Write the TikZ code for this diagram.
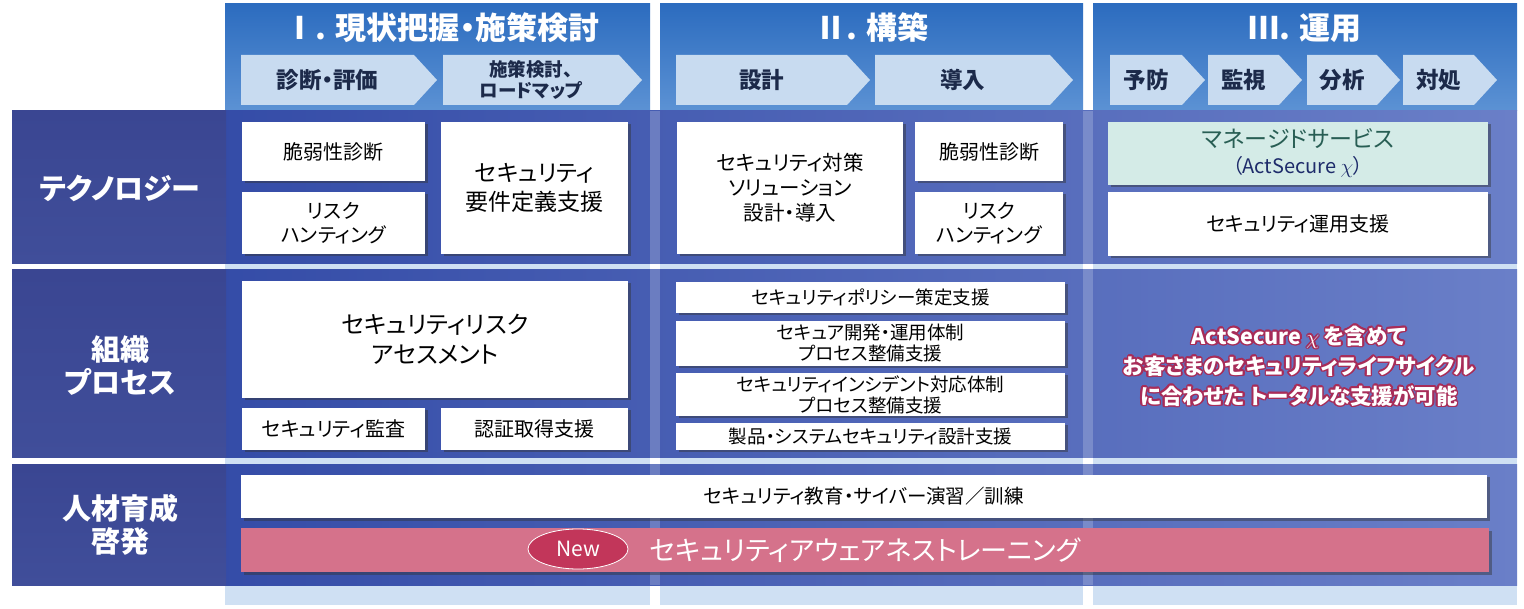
\documentclass[tikz,border=0pt]{standalone}
\usepackage{fontspec}
\setmainfont{Noto Sans CJK JP}[RawFeature=+palt]
\usepackage{contour}
\contourlength{1.6pt}
\contournumber{16}
\usetikzlibrary{shadows,shapes.geometric}
\definecolor{colbg}{RGB}{207,224,243}
\definecolor{hdtop}{RGB}{44,108,191}
\definecolor{hdbot}{RGB}{92,146,212}
\definecolor{chevbg}{RGB}{200,219,240}
\definecolor{chevtext}{RGB}{28,42,74}
\definecolor{rowdark}{RGB}{44,68,162}
\definecolor{rowmid}{RGB}{54,80,172}
\definecolor{rowlight}{RGB}{106,127,200}
\definecolor{labtop}{RGB}{58,70,146}
\definecolor{labbot}{RGB}{64,78,154}
\definecolor{mint}{RGB}{212,235,231}
\definecolor{minttext}{RGB}{40,94,84}
\definecolor{inktext}{RGB}{30,44,107}
\definecolor{rose}{RGB}{213,114,139}
\definecolor{newred}{RGB}{194,54,90}
\definecolor{glow}{RGB}{168,44,88}

\begin{document}
\begin{tikzpicture}[x=1pt,y=-1pt,
  boxstyle/.style={fill=white,inner sep=0pt,align=center,text=black,
    font=\fontsize{20}{24}\selectfont,
    drop shadow={shadow xshift=2.5pt,shadow yshift=-2.5pt,opacity=0.45,fill=black!80}},
  rowlabel/.style={text=white,align=center,font=\bfseries\fontsize{29}{33}\selectfont},
  phasetitle/.style={text=white,font=\bfseries\fontsize{31}{34}\selectfont},
  chevlabel/.style={text=chevtext,align=center},
  rowshade/.style={left color=rowdark,middle color=rowmid,right color=rowlight},
  msgtext/.style={align=center,text=white,font=\bfseries\fontsize{21.5}{30}\selectfont}]
\useasboundingbox (0,0) rectangle (1524,609);
\fill[white] (0,0) rectangle (1524,609);

% phase columns
\fill[colbg] (225,4) rectangle (650,605);
\fill[colbg] (660,4) rectangle (1083,605);
\fill[colbg] (1093,4) rectangle (1517,605);
\shade[top color=hdtop,bottom color=hdbot] (225,4) rectangle (650,111);
\shade[top color=hdtop,bottom color=hdbot] (660,4) rectangle (1083,111);
\shade[top color=hdtop,bottom color=hdbot] (1093,4) rectangle (1517,111);

\node[phasetitle] (phaseI) at (442,28) {Ⅰ. 現状把握・施策検討};
\node[phasetitle] (phaseII) at (872,28) {Ⅱ. 構築};
\node[phasetitle] (phaseIII) at (1305,28) {Ⅲ. 運用};

\foreach \l/\t/\n/\fs/\txt in {241/437/diag/22.5/{診断・評価},443/642/plan/18.5/{施策検討、\\ロードマップ},
    676/870/design/22.5/{設計},875/1073/deploy/22.5/{導入},
    1110/1205/prevent/22.5/{予防},1208/1302/watch/22.5/{監視},1307/1400/analyze/22.5/{分析},1403/1497/respond/22.5/{対処}}{
  \fill[chevbg] (\l,55) -- (\t-23,55) -- (\t,80) -- (\t-23,105) -- (\l,105) -- cycle;
  \node[chevlabel,font=\bfseries\fontsize{\fs}{21}\selectfont] (\n) at ({(\l+\t-23)/2},80) {\txt};
}

% rows
\shade[rowshade] (12,111) rectangle (1517,264);
\shade[rowshade] (12,270) rectangle (1517,458);
\shade[rowshade] (12,465) rectangle (1517,585);
\fill[white,opacity=0.2] (650,111) rectangle (660,585);
\fill[white,opacity=0.2] (1083,111) rectangle (1093,585);

\shade[top color=labtop,bottom color=labbot] (12,111) rectangle (226,264);
\shade[top color=labtop,bottom color=labbot] (12,270) rectangle (226,458);
\shade[top color=labtop,bottom color=labbot] (12,465) rectangle (226,585);
\node[rowlabel] (tech) at (120,188) {テクノロジー};
\node[rowlabel] (proc) at (120,366) {組織\\プロセス};
\node[rowlabel] (people) at (120,525) {人材育成\\啓発};

% technology
\node[boxstyle,minimum width=183pt,minimum height=59pt] (vulnI) at (333.5,151.5) {脆弱性診断};
\node[boxstyle,minimum width=183pt,minimum height=62pt] (huntI) at (333.5,223) {リスク\\ハンティング};
\node[boxstyle,minimum width=187pt,minimum height=132pt,font=\fontsize{23}{29}\selectfont] (reqdef) at (534.5,188) {セキュリティ\\要件定義支援};
\node[boxstyle,minimum width=226pt,minimum height=132pt,font=\fontsize{20.5}{25}\selectfont] (solution) at (790,188) {セキュリティ対策\\ソリューション\\設計・導入};
\node[boxstyle,minimum width=148pt,minimum height=59pt] (vulnII) at (989,151.5) {脆弱性診断};
\node[boxstyle,minimum width=148pt,minimum height=62pt] (huntII) at (989,223) {リスク\\ハンティング};
\node[boxstyle,fill=mint,minimum width=380pt,minimum height=63pt,font=\fontsize{23}{26}\selectfont] (managed) at (1298,153.5)
  {\textcolor{minttext}{マネージドサービス}\\{\color{inktext}\fontsize{20}{24}\selectfont （ActSecure $\chi$）}};
\node[boxstyle,minimum width=380pt,minimum height=64pt] (opsupport) at (1298,224) {セキュリティ運用支援};

% organisation and process
\node[boxstyle,minimum width=386pt,minimum height=117pt,font=\fontsize{24}{30}\selectfont] (assess) at (435,339.5) {セキュリティリスク\\アセスメント};
\node[boxstyle,minimum width=183pt,minimum height=42pt] (audit) at (333.5,429) {セキュリティ監査};
\node[boxstyle,minimum width=187pt,minimum height=42pt] (certify) at (534.5,429) {認証取得支援};
\node[boxstyle,minimum width=389pt,minimum height=31pt,font=\fontsize{18.5}{21}\selectfont] (policy) at (870.5,297.5) {セキュリティポリシー策定支援};
\node[boxstyle,minimum width=389pt,minimum height=45pt,font=\fontsize{18.5}{21}\selectfont] (devops) at (870.5,343.5) {セキュア開発・運用体制\\プロセス整備支援};
\node[boxstyle,minimum width=389pt,minimum height=43pt,font=\fontsize{18.5}{21}\selectfont] (incident) at (870.5,394.5) {セキュリティインシデント対応体制\\プロセス整備支援};
\node[boxstyle,minimum width=389pt,minimum height=27pt,font=\fontsize{18.5}{21}\selectfont] (product) at (870.5,436.5) {製品・システムセキュリティ設計支援};

\node[msgtext] (lifecycle) at (1299,367)
  {\contour{glow}{ActSecure\ $\chi$\ を含めて}\\\contour{glow}{お客さまのセキュリティライフサイクル}\\\contour{glow}{に合わせた\ トータルな支援が可能}};

% people
\node[boxstyle,minimum width=1246pt,minimum height=43pt,font=\fontsize{19.5}{22}\selectfont] (training) at (864,496.5) {セキュリティ教育・サイバー演習／訓練};
\node[boxstyle,fill=rose,text=white,minimum width=1248pt,minimum height=44pt,font=\fontsize{27}{30}\selectfont] (awareness) at (865,550) {セキュリティアウェアネストレーニング};
\node[ellipse,fill=newred,draw=white,line width=0.8pt,minimum width=100pt,minimum height=40pt,
  text=white,font=\fontsize{21}{24}\selectfont] (newtag) at (578,549) {New};
\end{tikzpicture}
\end{document}
